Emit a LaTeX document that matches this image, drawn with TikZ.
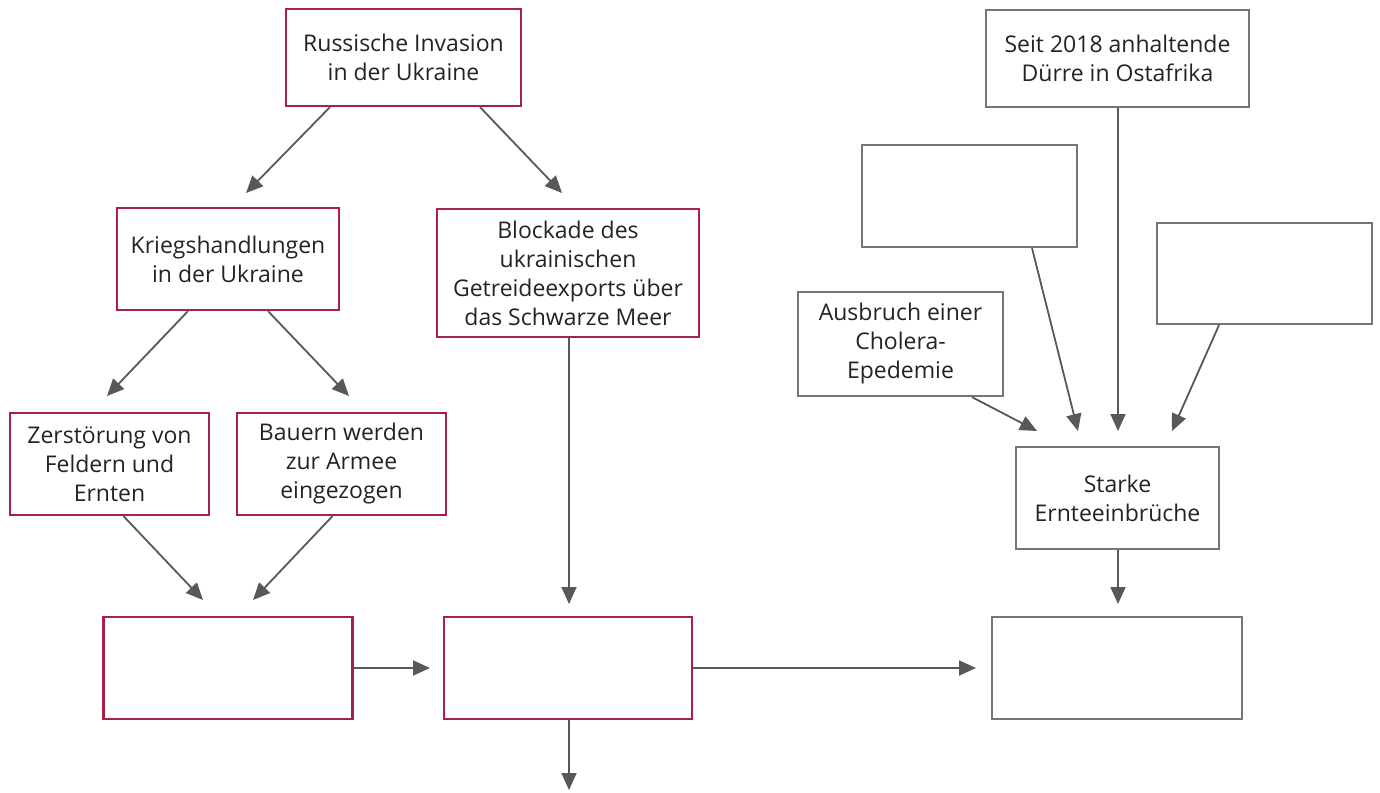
\documentclass[tikz,border=0pt]{standalone}
\usepackage{fontspec}
\setmainfont{Open Sans}
\usetikzlibrary{arrows.meta}
\definecolor{boxred}{RGB}{168,34,72}
\definecolor{boxgrey}{RGB}{118,118,118}
\definecolor{arrgrey}{RGB}{88,88,88}
\definecolor{txt}{RGB}{35,35,35}
\tikzset{
  base/.style={rectangle, inner sep=0pt, line width=2.2pt, align=center, text=txt,
    font=\fontsize{23}{29}\selectfont},
  redbox/.style={base, draw=boxred},
  greybox/.style={base, draw=boxgrey},
  arr/.style={draw=arrgrey, line width=1.8pt, -{Triangle[length=17pt,width=15pt]}},
}
\begin{document}
\begin{tikzpicture}[x=1pt,y=-1pt]
\useasboundingbox (0,0) rectangle (1380,792);
% red boxes
\node[redbox, minimum width=235pt, minimum height=97pt] (inv) at (403.5,57.5) {Russische Invasion\\in der Ukraine};
\node[redbox, minimum width=222pt, minimum height=102pt] (krieg) at (228,259) {Kriegshandlungen\\in der Ukraine};
\node[redbox, minimum width=262pt, minimum height=128pt] (block) at (568,273) {Blockade des\\ukrainischen\\Getreideexports über\\das Schwarze Meer};
\node[redbox, minimum width=199pt, minimum height=102pt] (zer) at (109.5,464) {Zerstörung von\\Feldern und\\Ernten};
\node[redbox, minimum width=209pt, minimum height=102pt] (bau) at (341.5,464) {Bauern werden\\zur Armee\\eingezogen};
\node[redbox, minimum width=249pt, minimum height=102pt] (bl) at (228,668) {};
\node[redbox, minimum width=248pt, minimum height=102pt] (bm) at (568,668) {};
% grey boxes
\node[greybox, minimum width=250pt, minimum height=102pt] (br) at (1117,668) {};
\node[greybox, minimum width=263pt, minimum height=97pt] (seit) at (1117.5,58.5) {Seit 2018 anhaltende\\Dürre in Ostafrika};
\node[greybox, minimum width=215pt, minimum height=102pt] (e1) at (969.5,196) {};
\node[greybox, minimum width=215pt, minimum height=101pt] (e2) at (1264.5,273.5) {};
\node[greybox, minimum width=205pt, minimum height=104pt] (aus) at (900.5,344) {Ausbruch einer\\Cholera-\\Epedemie};
\node[greybox, minimum width=203pt, minimum height=102pt] (stark) at (1117.5,498) {Starke\\Ernteeinbrüche};
% free ends
\coordinate (t1) at (246,193);
\coordinate (t2) at (562,193);
\coordinate (t3) at (107,396);
\coordinate (t4) at (349,396);
\coordinate (t5) at (203,600);
\coordinate (t6) at (253,600);
\coordinate (t7) at (569,604);
\coordinate (t8) at (430,668);
\coordinate (t9) at (976,668);
\coordinate (t10) at (569,790);
\coordinate (t11) at (1118,431);
\coordinate (t12) at (1078,431);
\coordinate (t13) at (1172,431);
\coordinate (t14) at (1037,431);
\coordinate (t15) at (1118,604);
% connectors
\draw[arr] ([xshift=-73.5pt]inv.south) -- (t1);
\draw[arr] ([xshift=76.5pt]inv.south) -- (t2);
\draw[arr] ([xshift=-40pt]krieg.south) -- (t3);
\draw[arr] ([xshift=40pt]krieg.south) -- (t4);
\draw[arr] ([xshift=14pt]zer.south) -- (t5);
\draw[arr] ([xshift=-9pt]bau.south) -- (t6);
\draw[arr] ([xshift=1pt]block.south) -- (t7);
\draw[arr] (bl.east) -- (t8);
\draw[arr] (bm.east) -- (t9);
\draw[arr] ([xshift=1pt]bm.south) -- (t10);
\draw[arr] ([xshift=0.5pt]seit.south) -- (t11);
\draw[arr] ([xshift=62.5pt]e1.south) -- (t12);
\draw[arr] ([xshift=-45.5pt]e2.south) -- (t13);
\draw[arr] ([xshift=71.5pt]aus.south) -- (t14);
\draw[arr] ([xshift=0.5pt]stark.south) -- (t15);
\end{tikzpicture}
\end{document}
